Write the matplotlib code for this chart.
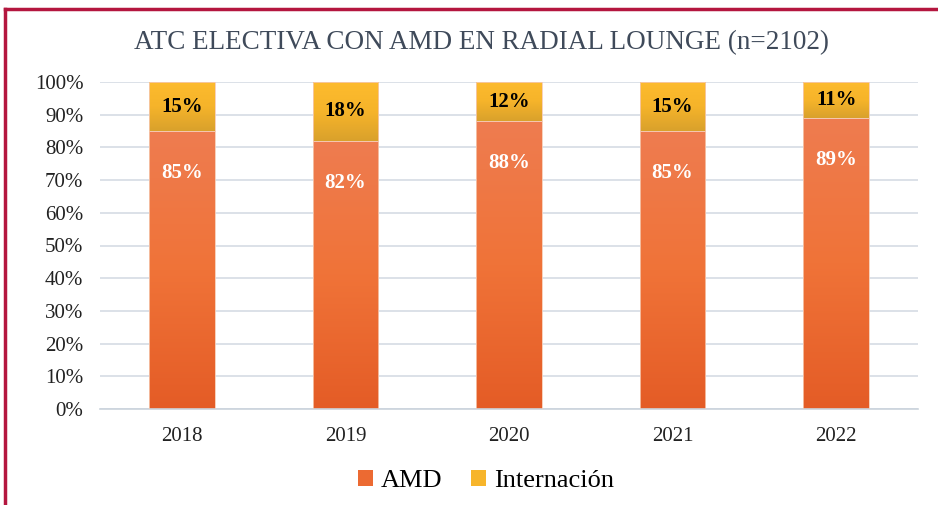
import numpy as np
import matplotlib
matplotlib.use('Agg')
import matplotlib.pyplot as plt
from matplotlib.colors import LinearSegmentedColormap
from matplotlib.patches import Patch, Rectangle
from matplotlib.lines import Line2D

years = ['2018', '2019', '2020', '2021', '2022']
amd = [85, 82, 88, 85, 89]
internacion = [15, 18, 12, 15, 11]

plt.rcParams['font.family'] = ['Liberation Serif', 'DejaVu Serif']

fig = plt.figure(figsize=(9.38, 5.05), dpi=100)
ax = fig.add_axes([100 / 938, 1 - 409 / 505, 818 / 938, 327 / 505])

x = np.arange(len(years))
width = 0.40
bars_amd = ax.bar(x, amd, width, color='none', edgecolor='none', label='AMD')
bars_int = ax.bar(x, internacion, width, bottom=amd, color='none', edgecolor='none', label='Internación')

cm_amd = LinearSegmentedColormap.from_list('amd', ['#E45C26', '#F07338', '#EE7C50'])
cm_int = LinearSegmentedColormap.from_list('int', ['#D9A12C', '#F6B42A', '#FDBB2E'])
grad = np.linspace(0, 1, 256).reshape(-1, 1)
for bars, cm in ((bars_amd, cm_amd), (bars_int, cm_int)):
    for p in bars:
        x0, y0 = p.get_x(), p.get_y()
        im = ax.imshow(grad, cmap=cm, aspect='auto', origin='lower',
                       extent=(x0, x0 + p.get_width(), y0, y0 + p.get_height()), zorder=2)
        im.set_clip_path(p)
        ax.add_patch(Rectangle((x0, y0), p.get_width(), p.get_height(), fill=False,
                               edgecolor='#F6C9B0', linewidth=0.6, zorder=3))

for i, p in enumerate(bars_amd):
    ax.annotate(f'{amd[i]}%', (p.get_x() + p.get_width() / 2, amd[i]), xytext=(0, -30),
                textcoords='offset points', ha='center', va='center', color='white',
                fontsize=15, fontweight='bold', zorder=4)
for i, p in enumerate(bars_int):
    ax.text(p.get_x() + p.get_width() / 2, amd[i] + internacion[i] / 2, f'{internacion[i]}%',
            ha='center', va='center', color='black', fontsize=15, fontweight='bold', zorder=4)

ax.set_xlim(-0.5, len(years) - 0.5)
ax.set_ylim(0, 100)
ax.set_yticks(range(0, 101, 10))
ax.set_yticklabels([f'{v}%' for v in range(0, 101, 10)])
ax.set_xticks(x)
ax.set_xticklabels(years)
ax.tick_params(length=0, labelsize=15, colors='#222222')
ax.tick_params(axis='x', pad=13)
ax.tick_params(axis='y', pad=12)
ax.yaxis.grid(True, color='#D5DCE4', linewidth=1.2)
ax.set_axisbelow(True)
for s in ['top', 'right', 'left']:
    ax.spines[s].set_visible(False)
ax.spines['bottom'].set_color('#CBD3DC')
ax.spines['bottom'].set_linewidth(1.2)

fig.text(481 / 938, 1 - 43 / 505, 'ATC ELECTIVA CON AMD EN RADIAL LOUNGE (n=2102)',
         ha='center', va='center', fontsize=19.5, color='#3F4A5A')

handles = [Patch(facecolor='#EC6A32', edgecolor='none'), Patch(facecolor='#F7B52B', edgecolor='none')]
fig.legend(handles, ['AMD', 'Internación'], loc='center', bbox_to_anchor=(486 / 938, 1 - 481 / 505),
           ncol=2, frameon=False, fontsize=19, handlelength=0.55, handleheight=0.55,
           handletextpad=0.3, columnspacing=1.1)

# crimson frame on top and left
fig.add_artist(Line2D([5 / 938, 1], [1 - 9 / 505, 1 - 9 / 505], color='#B4163F', linewidth=2.5,
                      transform=fig.transFigure))
fig.add_artist(Line2D([5 / 938, 5 / 938], [0, 1 - 9 / 505], color='#B4163F', linewidth=2.5,
                      transform=fig.transFigure))

fig.savefig('out.png', dpi=100)
